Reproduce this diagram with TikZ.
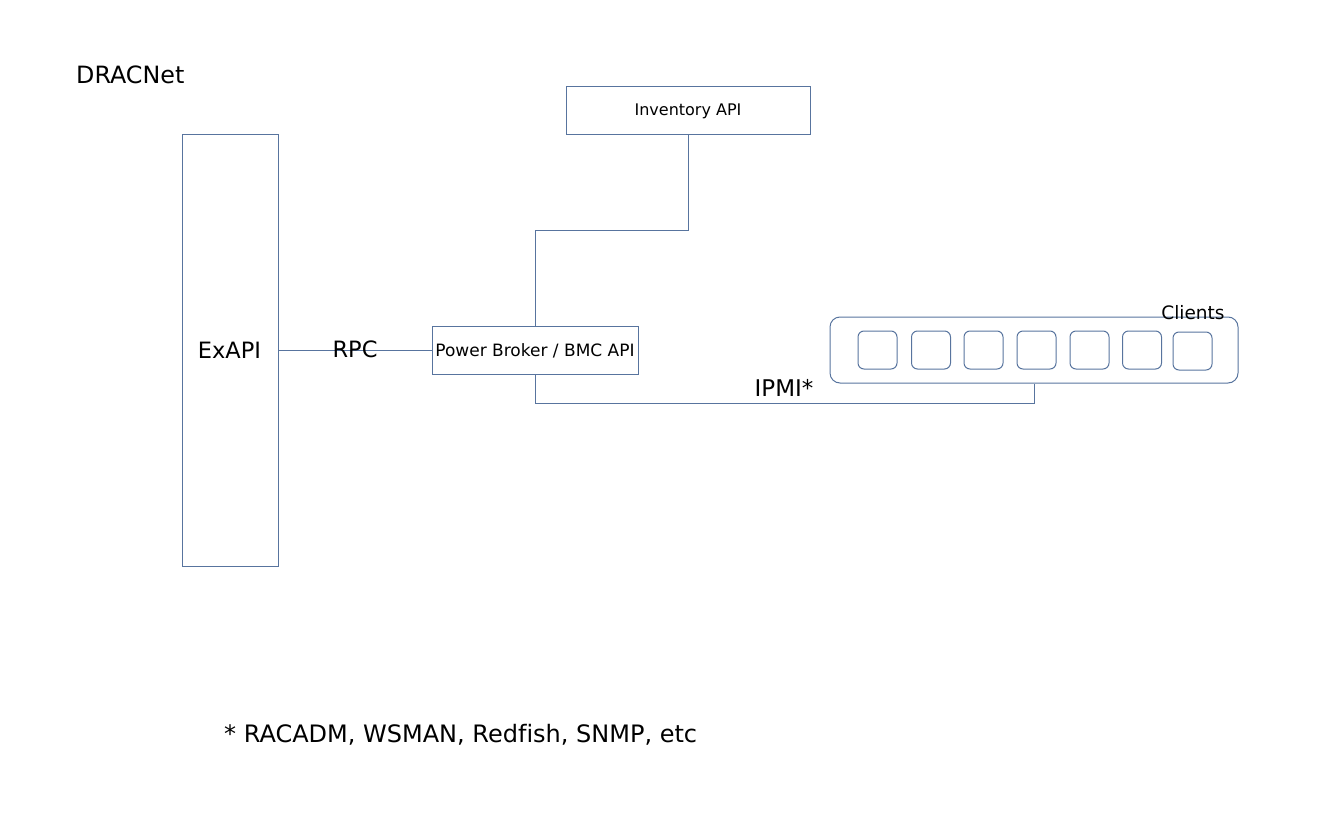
\documentclass[tikz,border=0pt]{standalone}
\usepackage{fontspec}
\setmainfont{DejaVu Sans}[Ligatures=NoCommon]
\definecolor{edge}{RGB}{88,116,158}
\begin{document}
\begin{tikzpicture}[x=1pt,y=-1pt,
  box/.style={draw=edge,line width=1pt,inner sep=0pt,fill=none},
  rbox/.style={box,rounded corners=6pt},
  conn/.style={draw=edge,line width=1pt},
  fs/.style={font=\fontsize{#1}{#1}\selectfont},
  lbl/.style={anchor=base,inner sep=0pt}]
\useasboundingbox (0,0) rectangle (1344,816);
\node[lbl,anchor=base west,fs=23.8] (title) at (76,84) {DRACNet};
\node[box,minimum width=96pt,minimum height=432pt] (exapi) at (230,350) {};
\node[lbl,fs=22.5] (exlbl) at (229.5,358) {ExAPI};
\node[box,minimum width=206pt,minimum height=48pt] (pb) at (535,350) {};
\node[lbl,fs=17] (pblbl) at (535,356) {Power Broker / BMC API};
\node[box,minimum width=244pt,minimum height=48pt] (inv) at (688,110) {};
\node[lbl,fs=16] (invlbl) at (688,115) {Inventory API};
\node[box,rounded corners=10pt,minimum width=408pt,minimum height=66pt] (clients) at (1034,350) {};
\foreach \i/\cx/\cy in {1/877.5/350,2/931/350,3/983.5/350,4/1036.5/350,5/1089.5/350,6/1142/350,7/1192.5/351}{
  \node[rbox,minimum width=39pt,minimum height=38pt] (c\i) at (\cx,\cy) {};
}
\node[lbl,fs=18.5] (clbl) at (1193,319) {Clients};
\draw[conn] (exapi.east) -- (pb.west);
\node[lbl,fs=22.5] (rpc) at (355,357) {RPC};
\draw[conn] (inv.south) -- ++(0,96) -| (pb.north);
\draw[conn] (pb.south) -- ++(0,29) -| (clients.south);
\node[lbl,fs=23] (ipmi) at (784,396) {IPMI*};
\node[lbl,anchor=base west,fs=24] (note) at (224,742) {* RACADM, WSMAN, Redfish, SNMP, etc};
\end{tikzpicture}
\end{document}
